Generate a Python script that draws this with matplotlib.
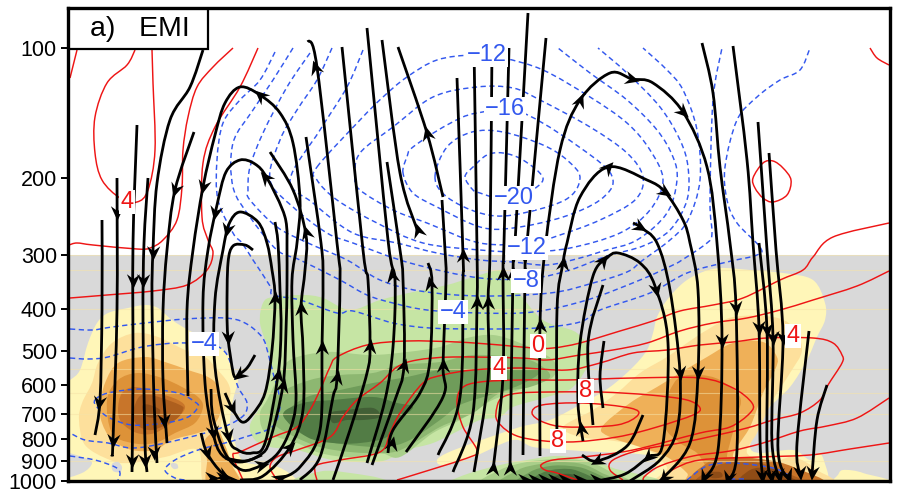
import numpy as np
import matplotlib
matplotlib.use("Agg")
import matplotlib.pyplot as plt
from matplotlib.path import Path
from matplotlib.patches import PathPatch, Rectangle
from matplotlib.markers import MarkerStyle
from matplotlib.transforms import Affine2D

plt.rcParams['font.family'] = ['Liberation Sans', 'DejaVu Sans']

# Everything: x = section position, v = log-pressure reading
PRESSURE_TICKS = [100, 200, 300, 400, 500, 600, 700, 800, 900, 1000]
FAINT_LEVELS = [300, 325, 400, 550, 625, 700, 900]

ORANGE_COLORS = ['#fff6b8', '#fde09c', '#efb058', '#dd9238', '#c8752a', '#ad5f1e', '#8f4c16']
GREEN_COLORS = ['#c6e5a4', '#a9cf8a', '#8db771', '#6f9c5a', '#527c45', '#425f36']

ORANGE_LEFT = [
    (0, [(60,385),(70,380),(80,370),(88,343),(97,323),(108,313),(128,308),(145,305),(158,308),(172,320),(192,332),(212,340),(228,355),(233,370),(238,380),(233,400),(230,423),(235,443),(245,462),(278,467),(298,481),(300,490),(60,490)]),
    (1, [(79,420),(82,403),(92,383),(98,363),(112,343),(135,333),(158,337),(185,350),(205,357),(215,367),(228,383),(230,397),(222,417),(222,440),(232,465),(243,485),(205,485),(198,450),(165,457),(130,463),(110,460),(85,445)]),
    (2, [(100,407),(105,383),(118,363),(145,357),(165,362),(188,370),(208,377),(218,387),(221,410),(212,427),(198,433),(172,440),(155,450),(132,450),(112,440),(102,423)]),
    (2, [(205,440),(218,432),(225,445),(232,465),(240,485),(208,485),(207,460)]),
    (3, [(107,400),(118,380),(138,373),(162,378),(182,387),(198,397),(203,407),(195,423),(175,433),(155,443),(132,443),(112,433)]),
    (4, [(118,410),(122,393),(135,387),(155,392),(178,400),(185,408),(175,420),(155,433),(137,433),(122,423)]),
    (5, [(133,413),(140,396),(155,396),(180,405),(183,410),(175,420),(152,430),(137,425)]),
    (6, [(143,405),(150,405),(160,410),(157,417),(148,417),(143,412)]),
]
GRAY_HOLES = [
    [(60,453),(82,457),(92,463),(82,473),(60,477)],
    [(112,464),(118,462),(122,467),(120,472),(113,471)],
    [(172,463),(177,464),(178,468),(174,469),(171,466)],
]
ORANGE_RIGHT = [
    (0, [(683,283),(700,273),(720,268),(750,270),(783,273),(813,280),(825,303),(825,320),(817,337),(807,360),(790,387),(767,410),(757,430),(750,447),(760,453),(793,450),(810,460),(820,453),(827,470),(830,481),(837,476),(843,470),(863,473),(880,485),(645,485),(655,470),(653,457),(627,453),(600,452),(567,450),(533,447),(513,440),(473,457),(443,465),(437,460),(447,453),(473,443),(520,427),(550,420),(583,403),(610,387),(633,367),(647,350),(653,333),(657,317),(667,300)]),
    (1, [(773,317),(733,317),(707,330),(687,343),(667,357),(640,373),(617,393),(593,410),(563,427),(580,437),(607,440),(643,447),(667,467),(665,485),(825,485),(817,470),(793,457),(770,463),(747,453),(757,433),(773,400),(790,373),(802,350),(793,327)]),
    (2, [(763,342),(733,343),(707,357),(680,373),(657,387),(630,403),(602,427),(610,437),(640,447),(667,457),(687,473),(695,485),(812,485),(793,467),(760,463),(733,457),(750,427),(763,393),(775,370),(777,357)]),
    (3, [(700,375),(680,377),(670,390),(667,400),(665,427),(680,443),(697,453),(710,470),(730,470),(727,457),(730,443),(737,417),(740,397),(720,380)]),
    (4, [(697,485),(707,463),(733,457),(767,460),(793,467),(822,485)]),
    (5, [(700,485),(713,468),(733,462),(760,463),(787,473),(802,485)]),
    (6, [(707,473),(720,472),(722,477),(712,478)]),
    (6, [(740,485),(750,470),(770,468),(787,475),(797,485)]),
]
GREEN_MAIN = [
    (0, [(260,323),(263,303),(273,297),(303,295),(323,298),(350,310),(380,300),(413,292),(447,285),(470,278),(500,270),(510,278),(517,290),(543,320),(577,333),(590,357),(573,387),(547,397),(513,407),(500,417),(480,420),(460,430),(433,443),(407,450),(383,461),(357,462),(333,460),(320,457),(297,450),(270,447),(255,440),(250,425),(262,403),(270,375),(268,350)]),
    (1, [(277,380),(290,360),(327,352),(370,355),(407,352),(440,347),(467,338),(493,335),(520,343),(553,360),(553,377),(527,387),(500,397),(487,403),(460,420),(433,433),(400,457),(380,453),(350,457),(320,453),(297,443),(277,437),(263,430),(260,413),(267,400)]),
    (2, [(280,393),(310,380),(340,375),(373,373),(400,365),(440,362),(473,355),(520,358),(540,365),(550,377),(530,387),(500,393),(473,413),(440,427),(407,447),(387,453),(350,452),(320,447),(295,437),(275,425),(270,410)]),
    (3, [(287,413),(307,397),(340,390),(373,383),(407,377),(440,370),(473,370),(520,367),(540,372),(520,385),(490,395),(460,405),(440,420),(410,440),(385,447),(350,445),(320,440),(295,430)]),
    (4, [(283,415),(303,403),(333,400),(373,397),(397,403),(413,407),(400,420),(387,437),(360,443),(333,443),(307,437)]),
    (5, [(330,413),(347,410),(373,408),(380,417),(363,420),(347,420),(333,423)]),
]
GREEN_BOTTOM = [
    (0, [(318,485),(323,471),(370,476),(400,483),(440,483),(470,473),(500,465),(527,460),(557,456),(587,460),(613,468),(645,485)]),
    (1, [(488,485),(500,470),(527,462),(557,459),(585,461),(607,470),(625,485)]),
    (2, [(505,485),(518,470),(540,464),(560,462),(582,464),(600,472),(617,485)]),
    (3, [(520,485),(530,472),(550,466),(570,466),(588,470),(610,485)]),
    (4, [(530,485),(542,473),(560,469),(578,471),(600,485)]),
    (5, [(545,485),(558,475),(575,475),(592,485)]),
]

RED_OPEN = [
    [(70,78),(77,50)],
    [(135,50),(127,65),(107,83),(95,117),(95,153),(102,180),(120,198),(137,202),(148,190),(155,150),(153,83),(152,50)],
    [(233,48),(213,67),(197,87),(188,117),(183,150),(182,187),(177,220),(163,240),(150,248),(137,249),(93,245),(77,243),(69,245)],
    [(258,48),(240,87),(215,127),(203,163),(202,217),(208,240),(213,253),(207,270),(187,285),(153,291),(107,295),(70,298)],
    [(870,48),(877,58),(889,65)],
    [(889,223),(833,237),(813,257),(803,270),(780,280),(743,298),(713,305),(680,311),(653,321),(620,331),(580,343),(553,348),(533,348),(500,345),(457,342),(407,341),(367,345),(337,357),(330,367),(320,390),(310,410),(297,427),(273,437),(240,452),(233,456),(243,480)],
    [(889,271),(857,286),(813,300),(780,310),(747,318),(713,323),(680,331),(647,343),(613,350),(580,355),(547,360),(520,358),(453,357),(417,360),(397,367),(380,383),(357,400),(343,417),(330,437),(297,450),(277,457),(270,467),(277,480)],
    [(317,480),(315,472),(317,465),(340,460),(380,452),(390,433),(400,413),(423,383),(443,375),(473,370),(520,368),(567,370),(600,363),(633,353),(667,350),(700,345),(733,342),(767,338),(813,338),(833,343),(842,355),(842,363),(828,385),(820,400),(800,413),(773,420),(747,428),(713,436),(680,443),(640,450),(613,460),(610,470),(623,480)],
    [(397,480),(420,473),(470,457),(477,450),(463,427),(457,403),(462,388),(480,382),(520,380),(567,380),(633,378),(700,378),(733,388),(752,403),(750,413),(730,427),(700,433),(633,450),(583,457),(553,460),(541,465),(545,470),(557,473),(580,481)],
    [(889,398),(857,418),(827,426),(800,431),(763,443),(730,451),(693,456),(660,466),(645,476),(643,481)],
    [(889,443),(850,449),(810,455),(760,457),(700,460),(672,470),(660,481)],
]
RED_CLOSED = [
    [(753,178),(763,163),(773,161),(783,168),(791,180),(787,195),(773,202),(763,198),(755,188)],
    [(520,393),(503,397),(497,407),(498,422),(520,437),(567,442),(617,437),(657,427),(693,415),(700,408),(687,400),(650,395),(600,392),(550,392)],
    [(532,413),(542,405),(583,403),(630,408),(638,415),(617,425),(567,427),(543,422)],
]
BLUE_OPEN = [
    [(275,52),(260,80),(240,100),(223,123),(217,160),(218,200),(233,233),(242,243),(253,260),(270,286),(273,295),(300,300),(337,313),(353,311),(393,323),(430,328),(480,329),(537,328),(580,322),(600,310),(650,293),(687,273),(727,262),(757,255),(760,247),(737,223),(727,200),(725,167),(737,120),(757,97),(780,80),(800,70),(810,48)],
    [(293,48),(273,80),(253,110),(233,143),(233,187),(250,217),(277,250),(300,260),(340,280),(367,295),(393,303),(427,310),(480,313),(533,312),(587,300),(640,280),(673,265),(682,260),(707,243),(712,233),(710,200),(713,100),(722,48)],
    [(310,53),(287,87),(263,133),(250,167),(248,190),(250,200),(277,227),(308,243),(347,260),(380,280),(420,291),(480,296),(550,293),(593,283),(627,272),(643,260),(670,240),(688,220),(700,180),(697,130),(683,90),(667,70),(643,48)],
    [(332,48),(317,80),(297,110),(280,140),(270,180),(293,207),(327,233),(353,243),(410,263),(480,278),(533,278),(570,270),(607,256),(643,246),(670,230),(687,200),(688,167),(680,140),(660,107),(627,73),(598,48)],
    [(363,50),(347,87),(320,130),(290,180),(313,203),(353,233),(397,243),(437,253),(480,260),(513,262),(547,265),(580,258),(603,251),(637,240),(667,213),(677,180),(673,157),(657,130),(627,100),(590,73),(558,48)],
    [(70,329),(92,330),(112,327),(145,323),(185,319),(225,318),(245,323),(262,337),(268,353),(273,373),(278,390),(280,407),(272,427),(245,437),(225,443),(198,450),(175,460),(165,470),(175,478),(185,480)],
    [(70,358),(88,359),(108,357),(142,347),(178,343),(212,345),(225,352),(232,367),(238,387),(247,403),(242,417),(215,430),(165,443),(132,448),(108,443),(85,440),(70,433)],
    [(70,456),(95,460),(115,467),(120,473),(118,480)],
    [(687,480),(707,466),(733,463),(773,468),(790,476)],
    [(730,479),(747,479)],
]
BLUE_CLOSED = [
    [(317,167),(360,120),(383,97),(407,77),(437,60),(473,55),(503,58),(543,70),(590,97),(627,123),(650,150),(663,180),(650,210),(620,233),(570,248),(525,252),(480,250),(423,243),(377,223),(337,200),(317,180)],
    [(355,177),(360,153),(393,127),(433,97),(477,87),(513,88),(540,100),(590,127),(627,153),(643,177),(635,200),(600,220),(560,235),(530,243),(480,243),(427,223),(393,210),(360,190)],
    [(403,173),(407,157),(413,147),(447,125),(477,113),(523,113),(593,157),(613,180),(600,200),(563,217),(513,228),(480,227),(437,207),(413,193)],
    [(435,177),(447,147),(472,132),(503,132),(543,145),(567,160),(580,178),(565,200),(513,215),(480,213),(447,197)],
    [(465,177),(473,167),(487,155),(503,153),(523,160),(543,178),(530,192),(517,198),(497,198),(480,193),(473,190)],
    [(95,400),(108,393),(142,389),(178,393),(195,402),(198,407),(188,417),(165,423),(132,425),(108,417),(97,407)],
]

# stream traces, each written in flow direction, with the arrowheads seen on it
STREAMS_LEFT = [
    ([(102,220),(102,310),(100,400),(95,435)], [(99,403)]),
    ([(117,178),(117,310),(113,440),(112,456)], [(117,213),(113,441)]),
    ([(137,125),(133,243),(133,376),(132,472)], [(133,281),(132,461)]),
    ([(148,178),(144,243),(143,320),(145,443),(147,472)], [(143,281),(145,461)]),
    ([(203,50),(190,87),(170,120),(157,183),(153,250),(152,300),(154,400),(157,463)], [(153,253),(154,453)]),
    ([(194,132),(175,190),(167,250),(163,310),(163,380),(167,443)], [(175,190),(164,421)]),
    ([(211,389),(213,417),(225,453),(242,470),(262,465),(278,453),(290,430),(296,400),(293,340),(292,280),(297,243),(300,200),(293,143),(280,113),(260,95),(240,87),(225,103),(215,135),(203,187),(193,250),(187,310),(188,396)], [(262,465),(260,95),(203,187)]),
    ([(287,250),(285,217),(267,178),(255,164),(240,160),(226,172),(217,205),(208,250),(203,300),(205,383),(213,433),(222,455),(240,462),(260,455),(270,440),(283,385),(286,330),(287,285),(287,250)], [(265,177),(215,213),(213,433),(283,385)]),
    ([(225,393),(232,408),(242,422),(252,415),(265,393),(272,350),(275,298),(272,270),(267,243),(258,222),(240,212),(229,224),(223,250),(215,300),(215,367),(228,436),(238,450),(252,453),(265,443),(278,375),(281,330),(280,290),(278,243),(275,222)], [(232,408),(275,298),(227,230),(228,436),(278,375)]),
    ([(253,250),(245,245),(233,246),(228,263),(227,310),(228,338),(233,372),(236,378)], [(228,338)]),
    ([(255,355),(247,368),(237,376)], [(239,375)]),
    ([(201,433),(207,453),(222,473),(237,481)], [(207,453),(224,476)]),
    ([(225,458),(245,461),(262,455)], []),
    ([(205,483),(240,483)], [(212,478),(223,478)]),
]
STREAMS_MID = [
    ([(240,480),(263,476),(290,447),(303,410),(303,350),(301,308),(305,270),(306,235),(293,190),(270,152)], [(290,447),(301,308),(306,232)]),
    ([(278,480),(300,467),(320,430),(322,347),(323,280),(321,243),(306,137)], [(280,478),(322,347)]),
    ([(300,480),(320,457),(333,397),(337,377),(340,280),(337,243),(317,67),(308,40)], [(337,377),(315,67)]),
    ([(333,480),(350,430),(367,373),(370,346),(368,280),(363,250),(342,47)], [(370,346)]),
    ([(367,463),(385,400),(393,347),(395,280),(388,240),(367,28)], [(392,275)]),
    ([(372,465),(395,400),(404,365),(403,280),(400,250),(387,162)], [(404,365)]),
    ([(388,453),(393,430),(420,393),(430,360),(432,283),(428,263)], [(392,443),(430,283)]),
    ([(406,452),(443,397),(443,365),(446,280),(445,250),(442,200)], [(443,365)]),
    ([(438,455),(460,397),(463,280),(463,255),(457,78)], [(463,255)]),
    ([(453,472),(473,413),(477,302),(477,250),(474,48)], [(477,302)]),
    ([(474,472),(488,380),(488,302),(490,250),(492,48)], [(488,302)]),
    ([(493,470),(503,376),(503,273),(504,243),(509,48)], [(493,468),(503,273)]),
    ([(510,470),(513,273),(515,243),(528,13)], [(510,468),(513,273)]),
    ([(523,455),(525,273),(527,243),(546,38)], [(525,273)]),
    ([(418,232),(400,173),(382,40)], [(418,230)]),
    ([(443,197),(427,133),(398,47)], [(427,133)]),
]
STREAMS_RIGHT = [
    ([(540,456),(540,325),(545,250),(560,150),(580,100),(610,73),(632,79),(653,83),(683,112),(707,167),(717,243),(722,341),(718,450),(703,480)], [(540,325),(580,100),(632,79),(683,112),(722,341),(704,477)]),
    ([(557,453),(557,310),(563,263),(567,243),(580,197),(608,167),(647,180),(665,192),(683,220),(690,243),(698,290),(698,373),(690,443),(660,481)], [(563,263),(608,167),(665,192),(698,373),(664,478)]),
    ([(633,223),(640,227),(657,243),(670,290),(680,373),(677,430),(660,460),(630,481)], [(640,227),(680,373)]),
    ([(583,441),(578,403),(580,343),(593,276),(607,258),(618,253),(640,263),(655,286),(668,343),(663,443),(648,457),(625,474),(597,481)], [(581,428),(603,260),(656,290),(648,457)]),
    ([(593,425),(588,343),(603,285)], []),
    ([(603,408),(600,376),(604,341)], []),
    ([(643,415),(627,446),(597,461),(582,455)], [(597,461)]),
    ([(702,43),(713,93),(720,167),(730,243),(736,308),(737,450),(728,481)], [(736,308),(728,478)]),
    ([(733,46),(747,160),(753,243),(759,328),(760,440),(763,481)], [(759,328),(762,476)]),
    ([(759,243),(767,330),(767,450),(772,481)], [(767,330),(771,476)]),
    ([(758,122),(767,250),(773,338),(772,443),(780,481)], [(773,338),(779,476)]),
    ([(769,153),(776,250),(783,338),(778,450),(790,481)], [(783,338),(788,476)]),
    ([(809,331),(797,443),(800,475)], [(800,473)]),
    ([(827,385),(817,420),(812,475)], [(812,473)]),
    ([(520,483),(600,483)], [(525,480),(535,480),(545,480),(555,480),(565,480),(580,480),(597,480)]),
]

BLUE_LABELS = [("−12",487,55),("−16",505,109),("−20",514,198),("−12",527,248),("−8",526,281),("−4",453,312),("−4",204,344)]
RED_LABELS = [("4",127,202),("4",499,368),("0",538,346),("8",586,391),("8",558,441),("4",793,336)]
LABEL_FONT = ['Liberation Sans Narrow', 'Liberation Sans', 'DejaVu Sans']


def hpa(v):
    return 100.0 * 10 ** ((np.asarray(v, float) - 48.0) / 433.0)


def curve(pts, closed=False):
    p = np.array(pts, float)
    n = len(p)
    verts, codes = [p[0]], [Path.MOVETO]
    segs = n if closed else n - 1
    for i in range(segs):
        if closed:
            p0, p1, p2, p3 = p[(i-1) % n], p[i], p[(i+1) % n], p[(i+2) % n]
        else:
            p0, p1, p2, p3 = p[max(i-1, 0)], p[i], p[i+1], p[min(i+2, n-1)]
        verts += [p1 + (p2-p0)/6.0, p2 - (p3-p1)/6.0, p2]
        codes += [Path.CURVE4] * 3
    v = np.array(verts)
    v[:, 1] = hpa(v[:, 1])
    return Path(v, codes)


fig = plt.figure(figsize=(9.10, 4.93), dpi=100)
ax = fig.add_axes([68/910, 1-481/493, (890-68)/910, (481-8)/493])
ax.set_yscale('log')
ax.set_xlim(68, 890)
ax.set_ylim(hpa(481), hpa(8))
ax.axhspan(300, hpa(481), color='#d9d9d9', lw=0, zorder=0)


def shade(layers, colors):
    for idx, pts in layers:
        ax.add_patch(PathPatch(curve(pts, True), fc=colors[idx], ec='none', lw=0, zorder=1))


shade(ORANGE_LEFT, ORANGE_COLORS)
for pts in GRAY_HOLES:
    ax.add_patch(PathPatch(curve(pts, True), fc='#d9d9d9', ec='none', lw=0, zorder=1.1))
shade(ORANGE_RIGHT, ORANGE_COLORS)
shade(GREEN_MAIN, GREEN_COLORS)
shade(GREEN_BOTTOM, GREEN_COLORS)

for lev in FAINT_LEVELS:
    ax.axhline(lev, color='#f6e3a8', lw=0.8, alpha=0.55, zorder=1.5)

RED = '#ee1515'
BLUE = '#3358ee'
for group, closed in ((RED_OPEN, False), (RED_CLOSED, True)):
    for pts in group:
        ax.add_patch(PathPatch(curve(pts, closed), fc='none', ec=RED, lw=1.05, zorder=2))
for group, closed in ((BLUE_OPEN, False), (BLUE_CLOSED, True)):
    for pts in group:
        ax.add_patch(PathPatch(curve(pts, closed), fc='none', ec=BLUE, lw=1.05,
                               ls=(0, (3.6, 2.4)), zorder=2))

HEAD = np.array([(0.55, 0), (-0.55, 0.5), (-0.18, 0), (-0.55, -0.5), (0.55, 0)])


def head_angle(pts, at):
    p = np.array(pts, float)
    a, b = p[:-1], p[1:]
    d = b - a
    t = np.clip(((np.array(at) - a) * d).sum(1) / np.maximum((d * d).sum(1), 1e-9), 0, 1)
    dist = np.hypot(*(a + d * t[:, None] - np.array(at)).T)
    i = int(np.argmin(dist))
    return np.degrees(np.arctan2(-d[i, 1], d[i, 0]))


for group in (STREAMS_LEFT, STREAMS_MID, STREAMS_RIGHT):
    for pts, heads in group:
        ax.add_patch(PathPatch(curve(pts), fc='none', ec='black', lw=2.0, zorder=3,
                               capstyle='butt'))
        for at in heads:
            m = MarkerStyle(Path(HEAD, closed=True),
                            transform=Affine2D().rotate_deg(head_angle(pts, at)))
            ax.plot([at[0]], [hpa(at[1])], marker=m, ms=10.5, color='black', mew=0,
                    ls='none', zorder=3.2)

box = dict(fc='white', ec='none', pad=1.0)
for txt, x, v in BLUE_LABELS:
    ax.text(x, hpa(v), txt, color=BLUE, fontsize=17, family=LABEL_FONT,
            ha='center', va='center', bbox=box, zorder=4)
for txt, x, v in RED_LABELS:
    ax.text(x, hpa(v), txt, color=RED, fontsize=17, family=LABEL_FONT,
            ha='center', va='center', bbox=box, zorder=4)

ax.add_patch(Rectangle((68, hpa(49)), 140, hpa(7) - hpa(49), fc='white', ec='black', lw=1.6, zorder=5))
ax.text(90, hpa(29), "a)   EMI", fontsize=20.5, color='black', ha='left', va='center', zorder=6)

ax.set_xticks([])
ax.set_yticks(PRESSURE_TICKS)
ax.set_yticklabels([str(p) for p in PRESSURE_TICKS], fontsize=15.5)
ax.minorticks_off()
ax.tick_params(axis='y', length=5, width=1.4, pad=3, which='major')
for s in ax.spines.values():
    s.set_linewidth(2.4)
    s.set_zorder(7)

fig.savefig('out.png', dpi=100)
